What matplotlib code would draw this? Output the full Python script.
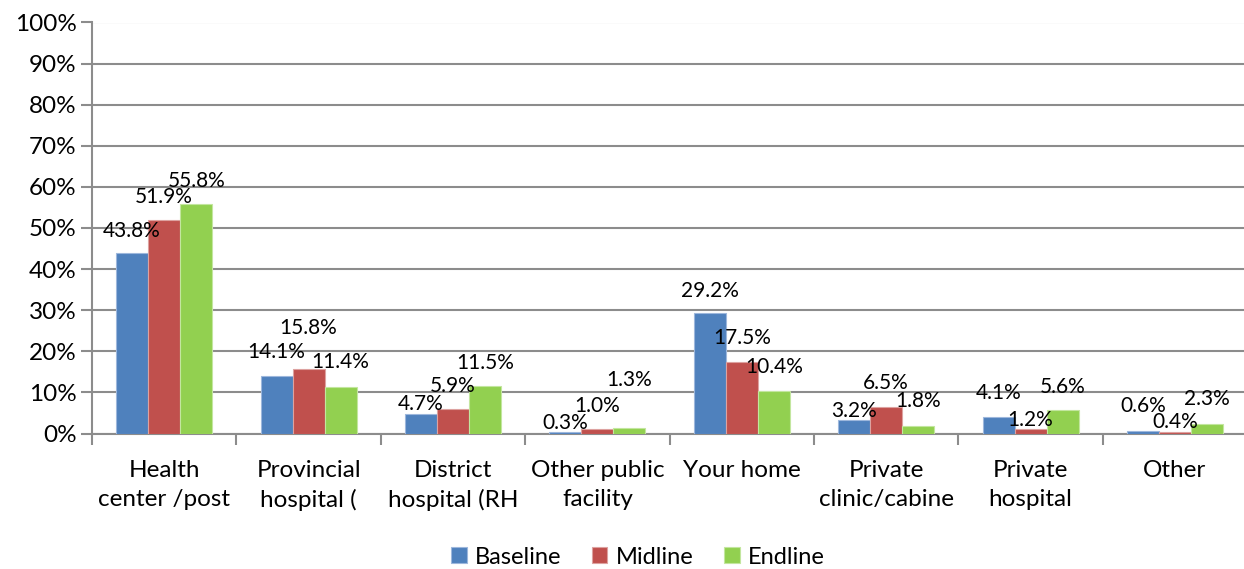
import matplotlib.pyplot as plt
import numpy as np

categories = ["Health\ncenter /post", "Provincial\nhospital (", "District\nhospital (RH",
              "Other public\nfacility", "Your home", "Private\nclinic/cabine",
              "Private\nhospital", "Other"]
baseline = [43.8, 14.1, 4.7, 0.3, 29.2, 3.2, 4.1, 0.6]
midline = [51.9, 15.8, 5.9, 1.0, 17.5, 6.5, 1.2, 0.4]
endline = [55.8, 11.4, 11.5, 1.3, 10.4, 1.8, 5.6, 2.3]
series_names = ["Baseline", "Midline", "Endline"]
colors = ["#4F81BD", "#C0504D", "#92D050"]
edges = ["#9DB7DC", "#DDA2A0", "#C3E69F"]

# label offsets above bar top (points), mimic excel's placement
label_offsets = [
    [16, 17, 7, 7, 16, 7, 17, 18],
    [17, 29, 17, 17, 17, 17, 6, 7],
    [17, 18, 17, 35, 17, 18, 17, 18],
]

plt.rcParams['font.family'] = ['Lato', 'DejaVu Sans']

fig = plt.figure(figsize=(12.44, 5.69), dpi=100)
ax = fig.add_axes([92 / 1244, (569 - 433.5) / 569, (8 * 144.4) / 1244, 411 / 569])

x = np.arange(len(categories))
w = 0.222
for i, vals in enumerate([baseline, midline, endline]):
    bars = ax.bar(x + (i - 1) * w, vals, w, color=colors[i], edgecolor=edges[i],
                  linewidth=0.8, label=series_names[i], zorder=3)
    for j, b in enumerate(bars):
        ax.annotate(f"{vals[j]:.1f}%", (b.get_x() + b.get_width() / 2, b.get_height()),
                    xytext=(0, label_offsets[i][j]), textcoords='offset points',
                    ha='center', va='center', fontsize=15, zorder=4)

ax.set_ylim(0, 100)
ax.set_xlim(-0.5, 7.5)
ax.set_yticks(np.arange(0, 101, 10))
ax.set_yticklabels([f"{v}%" for v in range(0, 101, 10)], fontsize=17.5)
ax.yaxis.grid(True, color='#8C8C8C', linewidth=1.5, zorder=0)
ax.set_axisbelow(True)

ax.set_xticks(x)
ax.set_xticklabels(categories, fontsize=17.5, linespacing=1.45)
ax.set_xticks(np.arange(-0.5, 8, 1), minor=True)
ax.tick_params(axis='x', which='major', length=0, pad=19)
ax.tick_params(axis='x', which='minor', length=8, color='#8C8C8C', width=1.5)
ax.tick_params(axis='y', length=8, color='#8C8C8C', width=1.5, pad=3)

for s in ['top', 'right']:
    ax.spines[s].set_visible(False)
for s in ['left', 'bottom']:
    ax.spines[s].set_color('#8C8C8C')
    ax.spines[s].set_linewidth(1.5)

fig.legend(loc='center', bbox_to_anchor=(638 / 1244, 1 - 557 / 569), ncol=3,
           frameon=False, fontsize=17, handlelength=0.65, handleheight=0.65,
           handletextpad=0.35, columnspacing=1.3)

fig.savefig("out.png", dpi=100)
